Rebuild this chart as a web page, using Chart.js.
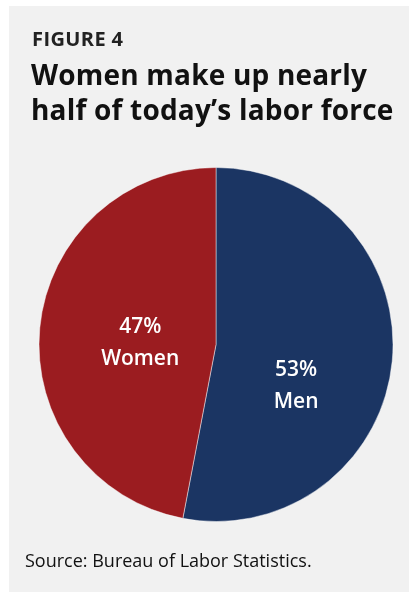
<!DOCTYPE html>
<html>
<head>
<meta charset="utf-8">
<script src="https://cdn.jsdelivr.net/npm/chart.js@4"></script>
<style>
  html, body { margin: 0; padding: 0; background: #ffffff; overflow: hidden; width: 409px; height: 592px; }
  #panel {
    position: absolute; left: 9px; top: 6px; width: 400px; height: 586px;
    background: #f1f1f1;
  }
  #fig {
    position: absolute; left: 32px; top: 25px; margin: 0;
    font: bold 20px "Open Sans", sans-serif; color: #222; letter-spacing: 0.4px;
  }
  #title {
    position: absolute; left: 31px; top: 57px; margin: 0;
    font: bold 28px/35px "Open Sans", sans-serif; color: #111; letter-spacing: 0.2px;
  }
  #source {
    position: absolute; left: 25px; top: 548px; margin: 0;
    font: 18px "Open Sans", sans-serif; color: #111;
  }
  #wrap { position: absolute; left: 0; top: 0; width: 409px; height: 592px; }
</style>
</head>
<body>
<div id="panel"></div>
<div id="wrap"><canvas id="chart"></canvas></div>
<p id="fig">FIGURE 4</p>
<p id="title">Women make up nearly<br>half of today’s labor force</p>
<p id="source">Source: Bureau of Labor Statistics.</p>
<script>
// Participación en la fuerza laboral por sexo
const categorias = ["Men", "Women"];
const porcentajes = [53, 47];
const colores = ["#1b3563", "#9b1c20"];

// Etiquetas dentro de cada sector: porcentaje arriba, nombre abajo
const etiquetasSectores = {
  id: "etiquetasSectores",
  afterDatasetsDraw(chart) {
    const ctx = chart.ctx;
    const meta = chart.getDatasetMeta(0);
    // desplazamiento radial y ajuste fino por sector
    const ajustes = [
      { r: 0.5, dx: -8, dy: 33 },
      { r: 0.43, dx: 0, dy: 6 },
    ];
    meta.data.forEach((arc, i) => {
      const mid = (arc.startAngle + arc.endAngle) / 2;
      const a = ajustes[i];
      const x = arc.x + Math.cos(mid) * arc.outerRadius * a.r + a.dx;
      const y = arc.y + Math.sin(mid) * arc.outerRadius * a.r + a.dy;
      ctx.save();
      ctx.fillStyle = "#ffffff";
      ctx.textAlign = "center";
      ctx.textBaseline = "middle";
      ctx.font = "600 21px 'Open Sans', sans-serif";
      ctx.fillText(porcentajes[i] + "%", x, y - 16);
      ctx.fillText(categorias[i], x, y + 16);
      ctx.restore();
    });
  },
};

new Chart(document.getElementById("chart"), {
  type: "pie",
  data: {
    labels: categorias,
    datasets: [
      {
        data: porcentajes,
        backgroundColor: colores,
        borderColor: "rgba(255,255,255,0.45)",
        borderWidth: 1,
      },
    ],
  },
  options: {
    responsive: true,
    maintainAspectRatio: false,
    animation: false,
    layout: { padding: { left: 38, top: 167, right: 15, bottom: 70 } },
    plugins: {
      legend: { display: false },
      tooltip: { enabled: false },
    },
  },
  plugins: [etiquetasSectores],
});
</script>
</body>
</html>
